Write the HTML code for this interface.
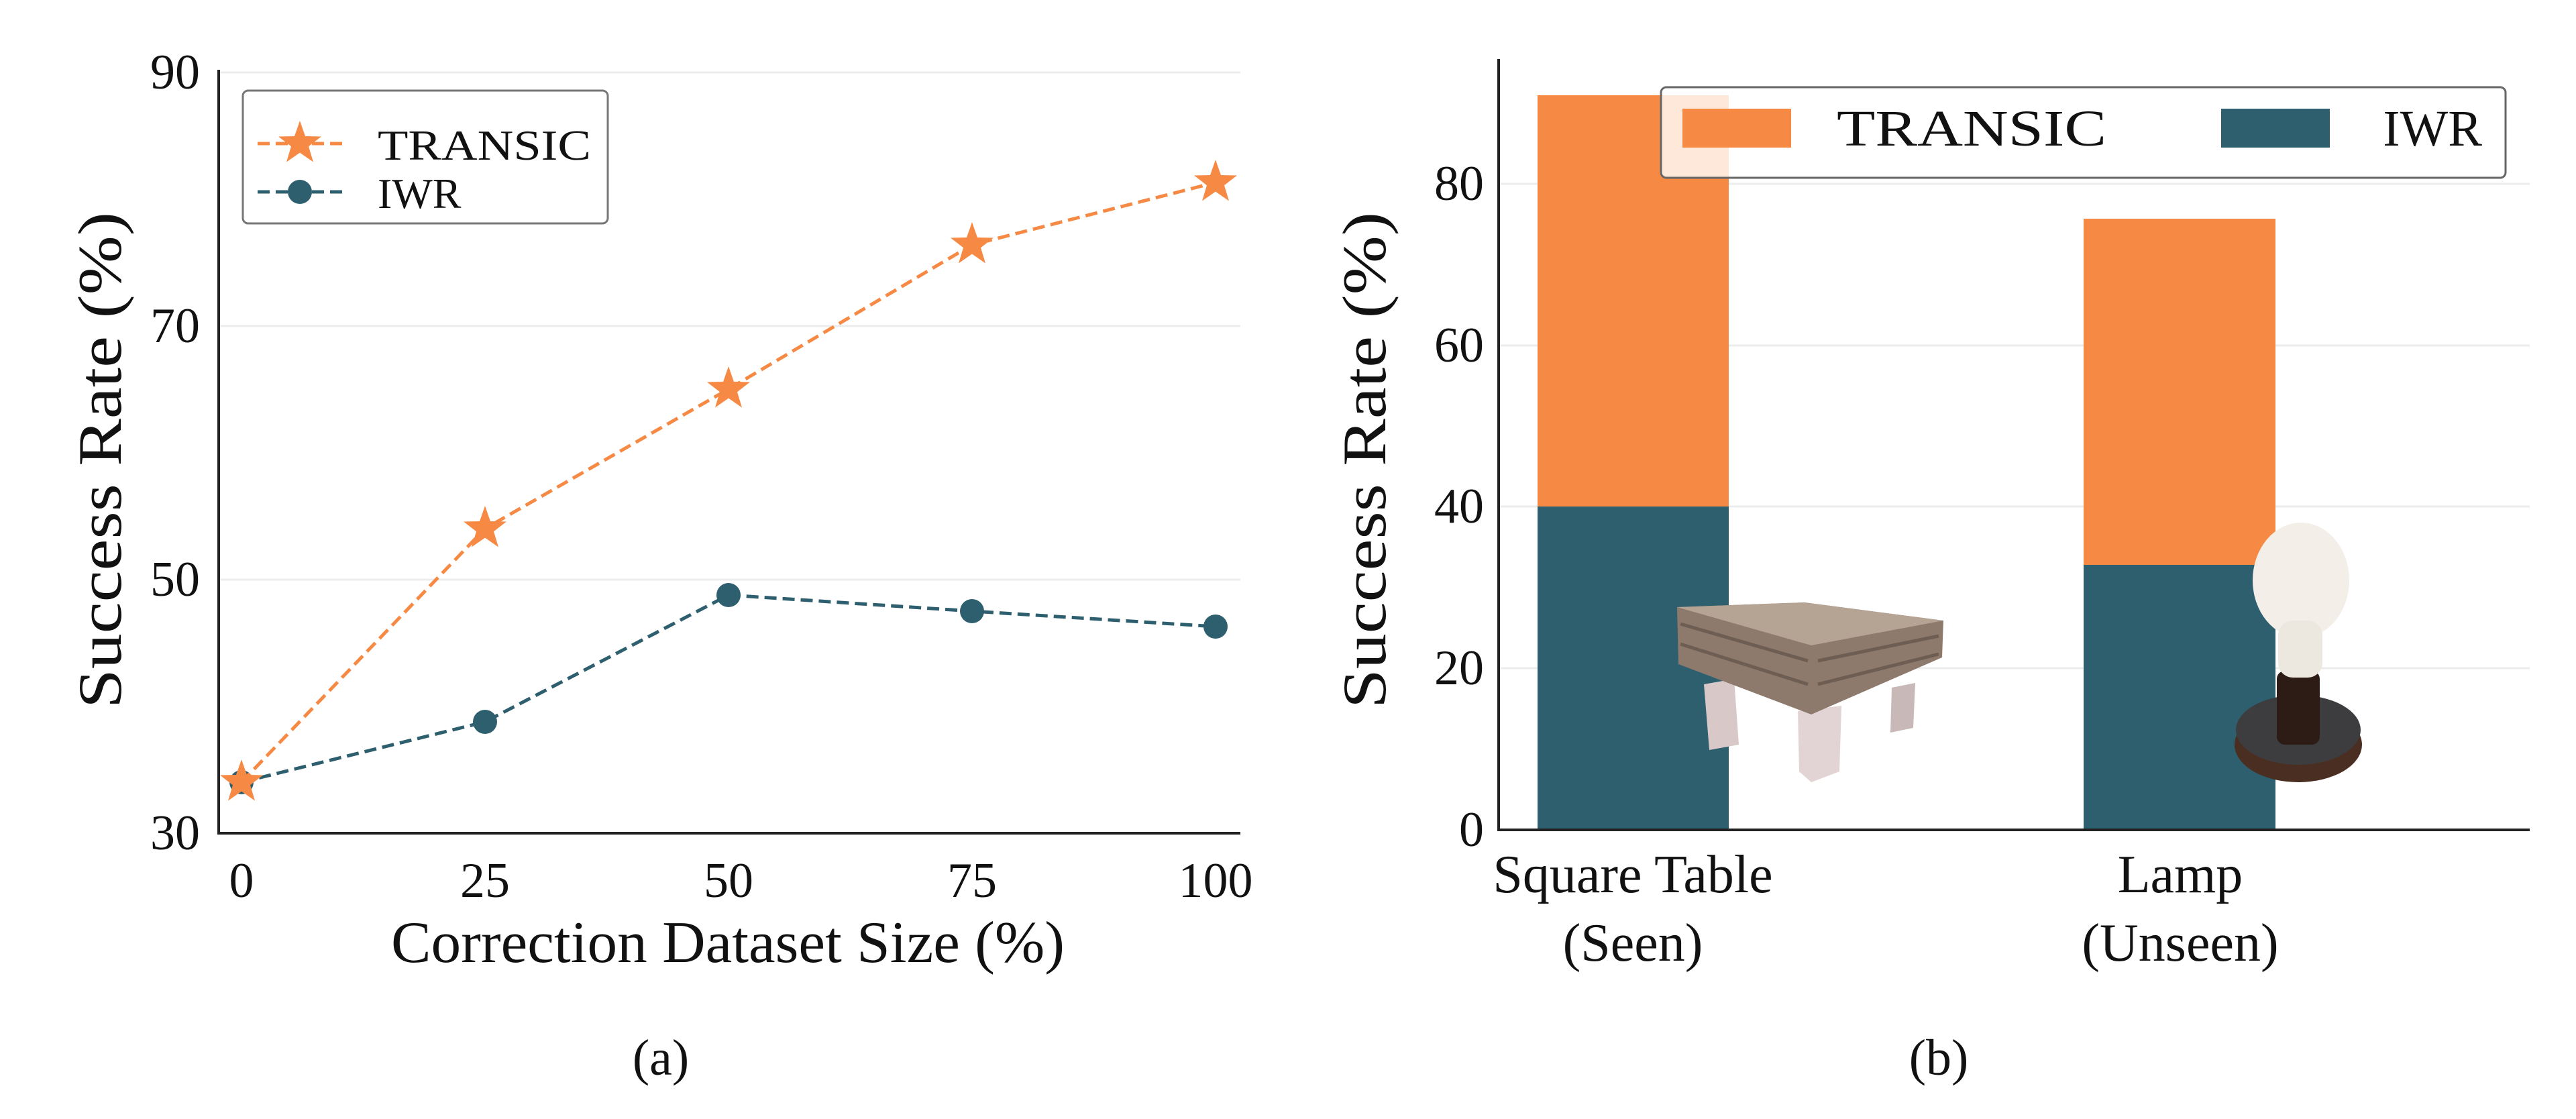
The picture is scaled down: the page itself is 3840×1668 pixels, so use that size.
<!DOCTYPE html>
<html><head><meta charset="utf-8"><style>
html,body{margin:0;padding:0;background:#fff}
svg{display:block}
text{font-family:"Liberation Serif",serif;fill:#111}
</style></head><body>
<svg width="3840" height="1668" viewBox="0 0 3840 1668" xmlns="http://www.w3.org/2000/svg">
<defs>
<polygon id="star" points="0,-34 8,-11 32,-10.5 13,4.2 20,27.5 0,13.6 -20,27.5 -13,4.2 -32,-10.5 -8,-11"/>
</defs>
<!-- LEFT PLOT -->
<g stroke="#ececec" stroke-width="3">
<line x1="326" y1="108" x2="1849" y2="108"/>
<line x1="326" y1="486" x2="1849" y2="486"/>
<line x1="326" y1="864" x2="1849" y2="864"/>
</g>
<line x1="326" y1="104" x2="326" y2="1244" stroke="#222" stroke-width="4"/>
<line x1="324" y1="1242" x2="1849" y2="1242" stroke="#222" stroke-width="4"/>
<g font-size="74" text-anchor="end">
<text x="298" y="132">90</text><text x="298" y="510">70</text><text x="298" y="888">50</text><text x="298" y="1266">30</text>
</g>
<g font-size="74" text-anchor="middle">
<text x="360" y="1337">0</text><text x="723" y="1337">25</text><text x="1086" y="1337">50</text><text x="1449" y="1337">75</text><text x="1812" y="1337">100</text>
</g>
<text x="1085" y="1434" font-size="88" text-anchor="middle" textLength="1004" lengthAdjust="spacingAndGlyphs">Correction Dataset Size (%)</text>
<text transform="translate(180,686) rotate(-90)" font-size="92" text-anchor="middle" textLength="740" lengthAdjust="spacingAndGlyphs">Success Rate (%)</text>
<text x="985" y="1602" font-size="76" text-anchor="middle">(a)</text>
<polyline points="360,1166 723,1076 1086,887 1449,911 1812,934" fill="none" stroke="#2e5f6e" stroke-width="5" stroke-dasharray="18,9"/>
<g fill="#2e5f6e">
<circle cx="723" cy="1076" r="18"/><circle cx="1086" cy="887" r="18"/><circle cx="1449" cy="911" r="18"/><circle cx="1812" cy="934" r="18"/><circle cx="360" cy="1166" r="18"/>
</g>
<polyline points="360,1166 723,788 1086,580 1449,365 1812,272" fill="none" stroke="#f68a45" stroke-width="5" stroke-dasharray="18,9"/>
<g fill="#f68a45">
<use href="#star" x="360" y="1166"/><use href="#star" x="723" y="788"/><use href="#star" x="1086" y="580"/><use href="#star" x="1449" y="365"/><use href="#star" x="1812" y="272"/>
</g>
<rect x="362" y="135" width="544" height="198" rx="8" fill="#fff" stroke="#777" stroke-width="3"/>
<line x1="384" y1="214" x2="510" y2="214" stroke="#f68a45" stroke-width="5" stroke-dasharray="18,9"/>
<use href="#star" x="447" y="214" fill="#f68a45"/>
<line x1="384" y1="286" x2="510" y2="286" stroke="#2e5f6e" stroke-width="5" stroke-dasharray="18,9"/>
<circle cx="447" cy="286" r="18" fill="#2e5f6e"/>
<text x="563" y="238" font-size="64" textLength="318" lengthAdjust="spacingAndGlyphs">TRANSIC</text>
<text x="563" y="310" font-size="64">IWR</text>
<!-- RIGHT PLOT -->
<g stroke="#ececec" stroke-width="3">
<line x1="2234" y1="996" x2="3771" y2="996"/>
<line x1="2234" y1="755" x2="3771" y2="755"/>
<line x1="2234" y1="515" x2="3771" y2="515"/>
<line x1="2234" y1="274" x2="3771" y2="274"/>
</g>
<rect x="2292" y="142" width="285" height="1095" fill="#f68a45"/>
<rect x="2292" y="755" width="285" height="482" fill="#2e5f6e"/>
<rect x="3106" y="326" width="286" height="911" fill="#f68a45"/>
<rect x="3106" y="842" width="286" height="395" fill="#2e5f6e"/>
<line x1="2234" y1="88" x2="2234" y2="1239" stroke="#222" stroke-width="4"/>
<line x1="2232" y1="1237" x2="3771" y2="1237" stroke="#222" stroke-width="4"/>
<g font-size="74" text-anchor="end">
<text x="2212" y="1261">0</text><text x="2212" y="1020">20</text><text x="2212" y="779">40</text><text x="2212" y="539">60</text><text x="2212" y="298">80</text>
</g>
<text transform="translate(2065,686) rotate(-90)" font-size="92" text-anchor="middle" textLength="740" lengthAdjust="spacingAndGlyphs">Success Rate (%)</text>
<g font-size="80" text-anchor="middle">
<text x="2434" y="1330">Square Table</text><text x="2434" y="1432">(Seen)</text>
<text x="3250" y="1330">Lamp</text><text x="3250" y="1432">(Unseen)</text>
</g>
<text x="2890" y="1602" font-size="76" text-anchor="middle">(b)</text>
<!-- table image -->
<g>
<polygon points="2540,1020 2585,1012 2592,1110 2548,1118" fill="#d8c8c8"/>
<polygon points="2820,1025 2855,1018 2852,1085 2818,1092" fill="#c8b8b8"/>
<polygon points="2680,1060 2745,1052 2742,1150 2700,1166 2682,1150" fill="#e2d4d4"/>
<polygon points="2500,905 2690,898 2897,925 2895,980 2700,1065 2502,990" fill="#8d7a6c"/>
<polygon points="2500,905 2690,898 2897,925 2700,962" fill="#b5a394"/>
<g stroke="#6e5d52" stroke-width="5"><line x1="2505" y1="930" x2="2695" y2="985"/><line x1="2505" y1="960" x2="2695" y2="1020"/><line x1="2710" y1="985" x2="2890" y2="948"/><line x1="2710" y1="1020" x2="2890" y2="975"/></g>
</g>
<!-- lamp image -->
<g>
<ellipse cx="3426" cy="1110" rx="95" ry="56" fill="#4a2e22"/>
<ellipse cx="3426" cy="1088" rx="93" ry="52" fill="#3d3d40"/>
<rect x="3394" y="1000" width="64" height="110" rx="12" fill="#2d1c16"/>
<ellipse cx="3430" cy="865" rx="72" ry="86" fill="#f3efe8"/>
<rect x="3396" y="925" width="66" height="85" rx="22" fill="#ece8e0"/>
</g>
<!-- legend b -->
<rect x="2476" y="130" width="1259" height="135" rx="8" fill="#fff" fill-opacity="0.8" stroke="#666" stroke-width="3"/>
<rect x="2508" y="162" width="162" height="58" fill="#f68a45"/>
<rect x="3311" y="162" width="162" height="58" fill="#2e5f6e"/>
<text x="2738" y="217" font-size="76" textLength="402" lengthAdjust="spacingAndGlyphs">TRANSIC</text>
<text x="3700" y="217" font-size="76" text-anchor="end">IWR</text>
</svg>
</body></html>
